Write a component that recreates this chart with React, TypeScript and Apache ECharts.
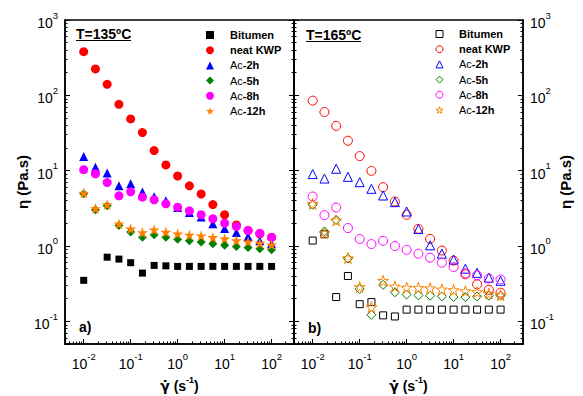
import React, { useEffect, useRef } from "react";
import * as echarts from "echarts";

// Shear rate (s^-1), 4 points per decade
const SHEAR_RATE = [0.01, 0.0178, 0.0316, 0.0562, 0.1, 0.178, 0.316, 0.562, 1, 1.78, 3.16, 5.62, 10, 17.8, 31.6, 56.2, 100];

const SERIES_NAMES = ["Bitumen", "neat KWP", "Ac-2h", "Ac-5h", "Ac-8h", "Ac-12h"];

// T = 135 ºC  (viscosity, Pa.s)
const BITUMEN_135 = [0.35, null, 0.71, 0.67, 0.6, 0.437, 0.552, 0.545, 0.536, 0.536, 0.536, 0.536, 0.536, 0.536, 0.536, 0.536, 0.536];
const NEAT_KWP_135 = [380, 224, 140, 76, 48.6, 32, 18.5, 11.9, 8.5, 6.3, 4.9, 3.55, 2.6, 1.9, 1.6, 1.45, 1.3];
const AC2H_135 = [15.4, 11.1, 9.3, 6.3, 6.7, 5.2, 4.5, 4.0, 3.24, 2.78, 2.42, 1.97, 1.71, 1.51, 1.34, 1.17, 1.07];
const AC5H_135 = [4.92, 3.02, 3.41, 1.87, 1.53, 1.31, 1.41, 1.31, 1.23, 1.17, 1.13, 1.07, 1.02, 0.985, 0.955, 0.92, 0.89];
const AC8H_135 = [10.3, 9.1, 6.95, 4.63, 5.23, 4.45, 4.1, 3.63, 3.28, 2.93, 2.6, 2.3, 2.01, 1.81, 1.61, 1.48, 1.31];
const AC12H_135 = [5.04, 3.14, 3.55, 1.97, 1.69, 1.51, 1.64, 1.53, 1.45, 1.4, 1.37, 1.3, 1.25, 1.18, 1.14, 1.09, 1.04];

// T = 165 ºC
const BITUMEN_165 = [1.18, 1.43, 0.21, 0.4, 0.169, 0.18, 0.12, 0.116, 0.143, 0.143, 0.143, 0.143, 0.143, 0.143, 0.143, 0.143, 0.143];
const NEAT_KWP_165 = [85, 60, 39.3, 25, 15.6, 9.93, 6.04, 3.89, 2.6, 1.69, 1.24, 0.87, 0.64, 0.42, 0.31, 0.262, 0.24];
const AC2H_165 = [9.0, 7.86, 10.6, 8.28, 7.03, 5.74, 4.68, 3.82, 2.87, 1.68, 1.02, 0.79, 0.66, 0.5, 0.44, 0.38, 0.345];
const AC5H_165 = [3.52, 1.56, 2.22, 0.68, 0.268, 0.122, 0.305, 0.243, 0.227, 0.221, 0.219, 0.214, 0.21, 0.21, 0.214, 0.219, 0.219];
const AC8H_165 = [4.54, 2.57, 3.24, 1.73, 1.24, 1.06, 1.17, 1.0, 0.89, 0.79, 0.7, 0.6, 0.525, 0.437, 0.408, 0.37, 0.36];
const AC12H_165 = [3.63, 1.48, 2.18, 0.69, 0.286, 0.154, 0.345, 0.29, 0.28, 0.279, 0.275, 0.265, 0.26, 0.252, 0.245, 0.234, 0.222];

const VALUES_135 = [BITUMEN_135, NEAT_KWP_135, AC2H_135, AC5H_135, AC8H_135, AC12H_135];
const VALUES_165 = [BITUMEN_165, NEAT_KWP_165, AC2H_165, AC5H_165, AC8H_165, AC12H_165];

const COLORS = ["#000000", "#ff0000", "#0000ff", "#008000", "#ff00ff", "#ff8000"];
const STAR = "path://M50,2 L61.2,36.2 L97.6,36.2 L68.2,57.4 L79.4,91.6 L50,70.4 L20.6,91.6 L31.8,57.4 L2.4,36.2 L38.8,36.2 Z";
const SYMBOLS = ["rect", "circle", "triangle", "diamond", "circle", STAR];
const SIZES = [7, 9, 9, 9, 9, 11];

const FONT = "'Liberation Sans', Arial, Helvetica, sans-serif";

const powLabel = (v: number) => {
  const e = Math.log10(v);
  const r = Math.round(e);
  if (Math.abs(e - r) > 1e-6) return "";
  return `{b|10}{s|${r}}`;
};

const labelRich = {
  b: { fontSize: 14, lineHeight: 20, verticalAlign: "bottom", fontFamily: FONT, color: "#000" },
  s: { fontSize: 9.5, lineHeight: 10, verticalAlign: "top", fontFamily: FONT, color: "#000" },
};

const legendRich = {
  p: { width: 11, fontSize: 11, lineHeight: 13 },
  r: { fontSize: 11, fontWeight: "normal", lineHeight: 13, fontFamily: FONT, color: "#000" },
  b: { fontSize: 11, fontWeight: "bold", lineHeight: 13, fontFamily: FONT, color: "#000" },
};

const legendFormatter = (name: string) => {
  const base = name.split("_")[0];
  if (base.startsWith("Ac")) return `{p| }{r|Ac}{b|${base.slice(2)}}`;
  return `{p| }{b|${base}}`;
};

function makeXAxis(gridIndex: number) {
  return {
    gridIndex,
    type: "log",
    logBase: 10,
    min: 0.004,
    max: 300,
    position: "bottom",
    axisLine: { show: true, onZero: false, lineStyle: { color: "#000", width: 1.5 } },
    axisTick: { show: true, inside: true, length: 5, lineStyle: { color: "#000", width: 1 } },
    minorTick: { show: true, splitNumber: 9, length: 2.5, lineStyle: { color: "#000", width: 1 } },
    splitLine: { show: false },
    minorSplitLine: { show: false },
    axisLabel: { show: true, formatter: powLabel, rich: labelRich, margin: 7, hideOverlap: false },
    name: "{g|γ̇}{b| (s}{s|-1}{b|)}",
    nameLocation: "middle",
    nameGap: 31,
    nameMoveOverlap: false,
    nameTextStyle: {
      rich: {
        g: { fontSize: 14, fontWeight: "bold", lineHeight: 18, verticalAlign: "bottom", fontFamily: "'DejaVu Sans', sans-serif", color: "#000" },
        b: { fontSize: 14, fontWeight: "bold", lineHeight: 18, verticalAlign: "bottom", fontFamily: FONT, color: "#000" },
        s: { fontSize: 9, fontWeight: "bold", lineHeight: 10, verticalAlign: "top", fontFamily: FONT, color: "#000" },
      },
    },
  };
}

function makeYAxis(gridIndex: number, position: string, labels: boolean) {
  return {
    gridIndex,
    type: "log",
    logBase: 10,
    min: 0.05,
    max: 1000,
    position,
    axisLine: { show: true, onZero: false, lineStyle: { color: "#000", width: 1.5 } },
    axisTick: { show: true, inside: true, length: 5, lineStyle: { color: "#000", width: 1 } },
    minorTick: { show: true, splitNumber: 9, length: 2.5, lineStyle: { color: "#000", width: 1 } },
    splitLine: { show: false },
    minorSplitLine: { show: false },
    axisLabel: { show: labels, formatter: powLabel, rich: labelRich, margin: 7, hideOverlap: false },
    name: labels ? "η (Pa.s)" : "",
    nameLocation: "middle",
    nameRotate: 90,
    nameGap: 35,
    nameMoveOverlap: false,
    nameTextStyle: { fontSize: 15, fontWeight: "bold", color: "#000", fontFamily: FONT },
  };
}

function makeSeries(panel: number) {
  const values = panel === 0 ? VALUES_135 : VALUES_165;
  const suffix = panel === 0 ? "_135" : "_165";
  return SERIES_NAMES.map((n, k) => ({
    type: "scatter",
    name: n + suffix,
    xAxisIndex: panel,
    yAxisIndex: panel === 0 ? 0 : 3,
    data: SHEAR_RATE.map((x, i) => (values[k][i] == null ? null : [x, values[k][i]])).filter((d) => d !== null),
    symbol: SYMBOLS[k],
    symbolSize: SIZES[k],
    itemStyle:
      panel === 0
        ? { color: COLORS[k], borderWidth: 0, opacity: 1 }
        : { color: "rgba(0,0,0,0)", borderColor: COLORS[k], borderWidth: 1, opacity: 1 },
    emphasis: { disabled: true },
    silent: true,
  }));
}

function makeLegend(panel: number, left: number, top: number, size: number) {
  const suffix = panel === 0 ? "_135" : "_165";
  return {
    data: SERIES_NAMES.map((n) => n + suffix),
    orient: "vertical",
    left,
    top,
    itemWidth: size,
    itemHeight: size,
    itemGap: 4.2,
    padding: 0,
    selectedMode: false,
    formatter: legendFormatter,
    itemStyle: panel === 0 ? { opacity: 1 } : { opacity: 1, borderWidth: 1 },
    textStyle: { fontSize: 11, fontWeight: "bold", color: "#000", fontFamily: FONT, rich: legendRich },
  };
}

export default function App() {
  const ref = useRef<HTMLDivElement>(null);
  useEffect(() => {
    if (!ref.current) return;
    const chart = echarts.init(ref.current, null, { renderer: "svg" });
    const gridBase = { top: 20, width: 229, height: 324, show: true, borderColor: "#000", borderWidth: 1.5, backgroundColor: "transparent", outerBoundsMode: "none", containLabel: false };
    const option: any = {
      animation: false,
      backgroundColor: "#fff",
      textStyle: { fontFamily: FONT, color: "#000" },
      grid: [
        { ...gridBase, left: 65 },
        { ...gridBase, left: 294 },
      ],
      xAxis: [makeXAxis(0), makeXAxis(1)],
      yAxis: [makeYAxis(0, "left", true), makeYAxis(0, "right", false), makeYAxis(1, "left", false), makeYAxis(1, "right", true)],
      legend: [makeLegend(0, 206, 29.5, 8), makeLegend(1, 435.5, 28.5, 7)],
      series: [...makeSeries(0), ...makeSeries(1)],
      graphic: [
        { type: "text", left: 76, top: 27, style: { text: "T=135ºC", font: `bold 14px ${FONT}`, fill: "#000" } },
        { type: "line", shape: { x1: 76, y1: 40.5, x2: 131, y2: 40.5 }, style: { stroke: "#000", lineWidth: 1.2 } },
        { type: "text", left: 306, top: 28, style: { text: "T=165ºC", font: `bold 14px ${FONT}`, fill: "#000" } },
        { type: "line", shape: { x1: 306, y1: 41.5, x2: 361, y2: 41.5 }, style: { stroke: "#000", lineWidth: 1.2 } },
        { type: "text", left: 79, top: 320, style: { text: "a)", font: `bold 14px ${FONT}`, fill: "#000" } },
        { type: "text", left: 308, top: 321, style: { text: "b)", font: `bold 14px ${FONT}`, fill: "#000" } },
      ],
    };
    chart.setOption(option);
    return () => chart.dispose();
  }, []);
  return <div ref={ref} style={{ position: "absolute", left: 0, top: 0, width: 583, height: 396 }} />;
}
